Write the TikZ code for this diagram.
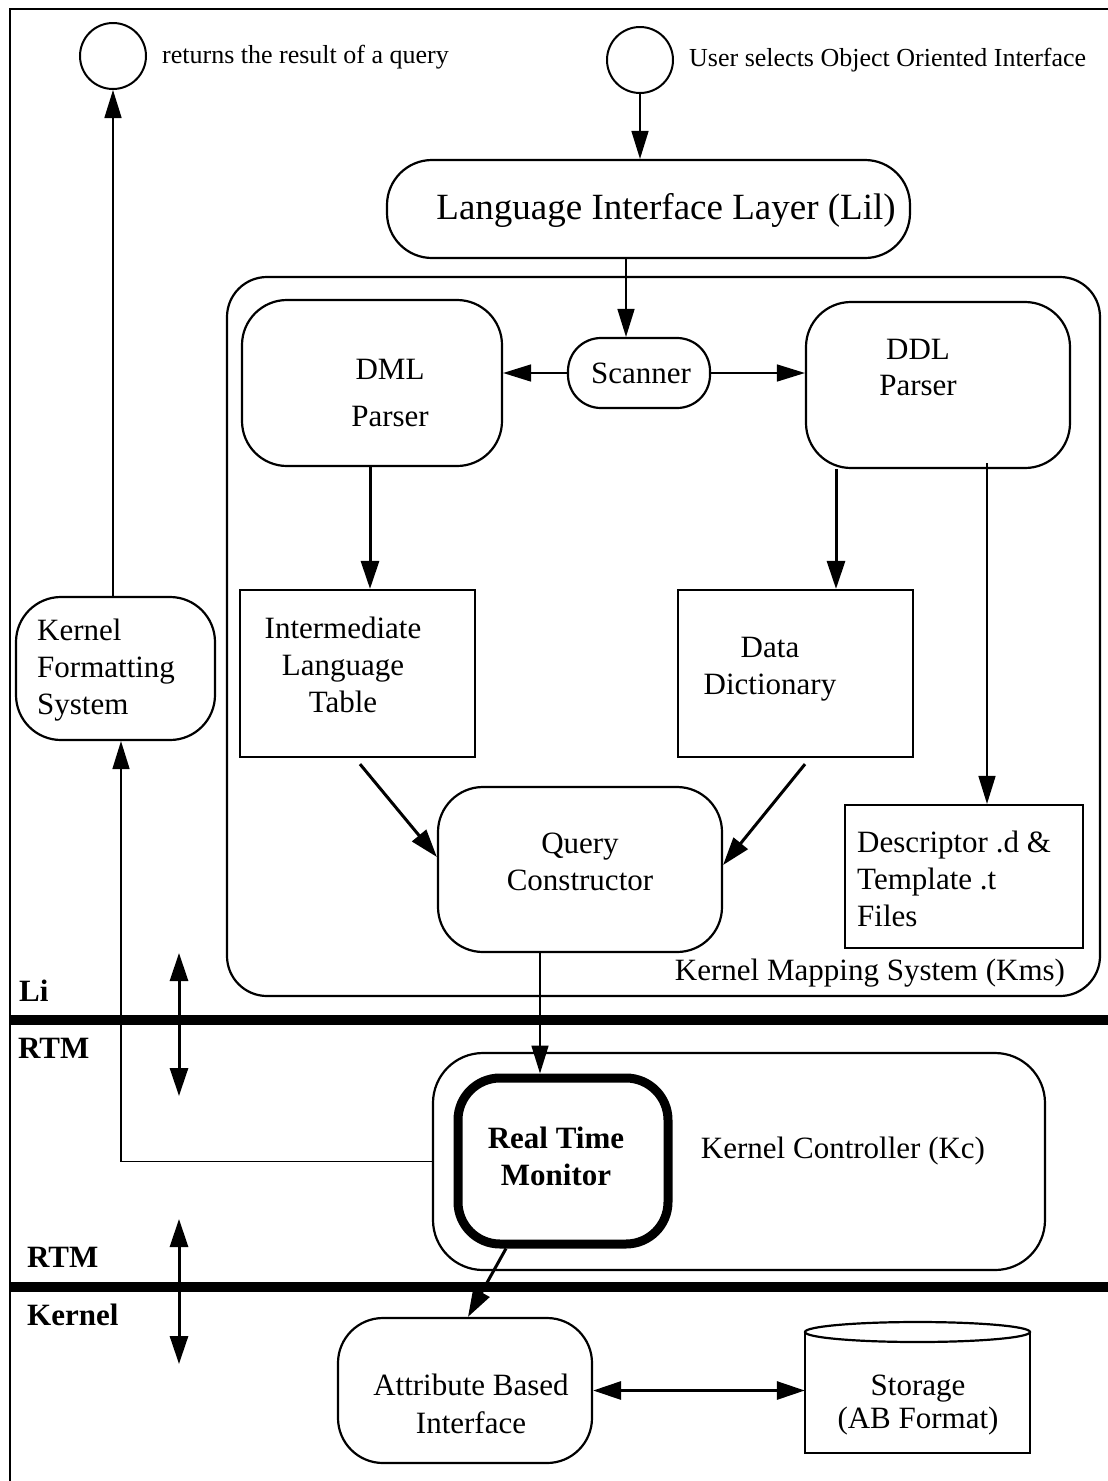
\documentclass[tikz,border=0pt]{standalone}
\usepackage{fontspec}
\setmainfont{Liberation Serif}
\usetikzlibrary{arrows.meta,calc}
\begin{document}
\begin{tikzpicture}[x=1pt,y=-1pt,
  box/.style={draw,line width=2.2pt,rectangle,inner sep=0pt},
  rbox/.style={box,rounded corners=45pt},
  txt/.style={font=\fontsize{31}{37}\selectfont,align=center,inner sep=0pt},
  small/.style={font=\fontsize{26}{30}\selectfont,inner sep=0pt,anchor=west},
  thinarr/.style={line width=1.6pt,-{Triangle[length=28pt,width=17pt]}},
  thickarr/.style={line width=3pt,-{Triangle[length=28pt,width=18pt]}},
  dblarr/.style={line width=3pt,{Triangle[length=28pt,width=18pt]}-{Triangle[length=28pt,width=18pt]}},
  sepbar/.style={line width=10pt},
  side/.style={font=\fontsize{31}{37}\selectfont\bfseries,anchor=base west,inner sep=0pt}
]
\useasboundingbox (0,0) rectangle (1108,1481);
% frame
\draw[line width=1.6pt] (1108,9) -- (10,9) -- (10,1481);

% top circles and captions
\node[draw,circle,line width=2pt,minimum size=66pt,inner sep=0pt] (c1) at (113,56) {};
\node[small] (tret) at (162,57) {returns the result of a query};
\node[draw,circle,line width=2pt,minimum size=66pt,inner sep=0pt] (c2) at (640,60) {};
\node[small] (tuser) at (689,60) {User selects Object Oriented Interface};

% Language Interface Layer
\node[rbox,minimum width=523pt,minimum height=98pt] (lil) at (648.5,209) {};
\node[txt,font=\fontsize{37}{44}\selectfont] (liltxt) at (666,210) {Language Interface Layer (Lil)};

% Kernel Mapping System
\node[box,rounded corners=40pt,minimum width=873pt,minimum height=719pt] (kms) at (663.5,636.5) {};
\node[txt] (kmstxt) at (870,973) {Kernel Mapping System (Kms)};

% DML parser, scanner, DDL parser
\node[rbox,minimum width=260pt,minimum height=166pt] (dml) at (372,383) {};
\node[txt,font=\fontsize{31}{47}\selectfont] (dmltxt) at (390,393) {DML\\Parser};
\node[box,rounded corners=33pt,minimum width=142pt,minimum height=70pt] (scan) at (639,373) {};
\node[txt] (scantxt) at (641,373) {Scanner};
\node[rbox,minimum width=264pt,minimum height=166pt] (ddl) at (938,385) {};
\node[txt,font=\fontsize{31}{36}\selectfont] (ddltxt) at (918,367) {DDL\\Parser};

% tables
\node[box,minimum width=235pt,minimum height=167pt] (ilt) at (357.5,673.5) {};
\node[txt] (ilttxt) at (343,665) {Intermediate\\Language\\Table};
\node[box,minimum width=235pt,minimum height=167pt] (dd) at (795.5,673.5) {};
\node[txt] (ddtxt) at (770,669) {Data\\Dictionary};

% Query constructor
\node[rbox,minimum width=284pt,minimum height=165pt] (qc) at (580,869.5) {};
\node[txt] (qctxt) at (580,862) {Query\\Constructor};

% descriptor files
\node[box,minimum width=238pt,minimum height=143pt] (desc) at (964,876.5) {};
\node[txt,align=left,anchor=west] (desctxt) at (857,879) {Descriptor .d \&\\Template .t\\Files};

% Kernel formatting system
\node[rbox,minimum width=199pt,minimum height=143pt] (kfs) at (115.5,668.5) {};
\node[txt,align=left,anchor=west] (kfstxt) at (37,670) {Kernel\\Formatting\\System};

% Kernel controller and RTM
\node[box,rounded corners=50pt,minimum width=612pt,minimum height=217pt] (kc) at (739,1161.5) {};
\node[txt] (kctxt) at (843,1151) {Kernel Controller (Kc)};
\node[draw,rectangle,inner sep=0pt,line width=9pt,rounded corners=42pt,minimum width=210pt,minimum height=166pt] (rtm) at (563,1161) {};
\node[txt,font=\fontsize{31}{37}\selectfont\bfseries] (rtmtxt) at (556,1156) {Real Time\\Monitor};

% Attribute based interface and storage
\node[rbox,minimum width=254pt,minimum height=145pt] (abi) at (465,1390.5) {};
\node[txt,font=\fontsize{31}{38}\selectfont] (abitxt) at (471,1404) {Attribute Based\\Interface};
\draw[line width=2.2pt] (805,1332) -- (805,1453) -- (1030,1453) -- (1030,1332);
\draw[line width=2.2pt] (917.5,1332) ellipse [x radius=112.5pt, y radius=10pt];
\node[inner sep=0pt,minimum width=225pt,minimum height=121pt] (sto) at (917.5,1392.5) {};
\node[txt,font=\fontsize{31}{33}\selectfont] (stotxt) at (918,1405) {Storage\\(AB Format)};

% separator bars and layer labels
\coordinate (bar1a) at (10,1020);
\coordinate (bar1b) at (1108,1020);
\coordinate (bar2a) at (10,1287);
\coordinate (bar2b) at (1108,1287);
\draw[sepbar] (bar1a) -- (bar1b);
\draw[sepbar] (bar2a) -- (bar2b);
\node[side] (lLi) at (19,1001) {Li};
\node[side] (lRTM1) at (18,1058) {RTM};
\node[side] (lRTM2) at (27,1267) {RTM};
\node[side] (lKern) at (27,1325) {Kernel};
\coordinate (d1a) at (179,953);
\coordinate (d1b) at (179,1096);
\coordinate (d2a) at (179,1219);
\coordinate (d2b) at (179,1364);
\draw[dblarr] (d1a) -- (d1b);
\draw[dblarr] (d2a) -- (d2b);

% connectors
\draw[thinarr] (c2.south) -- (c2.south |- lil.north);
\draw[thinarr] ([xshift=-22.5pt]lil.south) -- ([xshift=-13pt]scan.north);
\draw[thinarr] (scan.west) -- (scan.west -| dml.east);
\draw[thinarr] (scan.east) -- (scan.east -| ddl.west);
\draw[thickarr] ([xshift=-2pt]dml.south) -- ([xshift=12.5pt]ilt.north);
\draw[thickarr] ([xshift=-102pt]ddl.south) -- ([xshift=40.5pt]dd.north);
\draw[thinarr] ([xshift=49pt,yshift=6pt]ddl.south) -- ([xshift=23pt]desc.north);
\draw[thickarr] ([shift={(2.5pt,-6pt)}]ilt.south) -- ([yshift=12.5pt]qc.west);
\draw[thickarr] ([shift={(9.5pt,-6pt)}]dd.south) -- ([yshift=4.5pt]qc.east);
\draw[thinarr] ([xshift=-40pt]qc.south) -- ([xshift=-23pt]rtm.north);
\draw[thickarr] ([xshift=-57pt]rtm.south) -- ([xshift=3pt]abi.north);
\draw[thinarr] (kc.west) -| ([xshift=5.5pt]kfs.south);
\draw[thinarr] ([xshift=-2.5pt]kfs.north) -- (c1.south);
\draw[dblarr] (abi.east) -- (abi.east -| sto.west);
\end{tikzpicture}
\end{document}
